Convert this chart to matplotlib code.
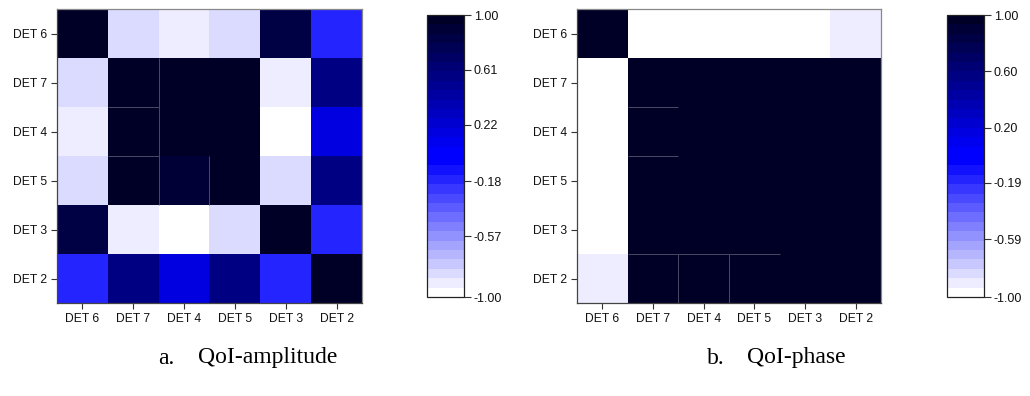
import numpy as np
import matplotlib
matplotlib.use("Agg")
import matplotlib.pyplot as plt
from matplotlib.colors import ListedColormap, Normalize
from matplotlib.ticker import FormatStrFormatter

# Detector order used for both rows (top to bottom) and columns (left to right)
detectors = ["DET 6", "DET 7", "DET 4", "DET 5", "DET 3", "DET 2"]

# Correlation of the QoI amplitude between detectors
amplitude = [
    [1.00, -0.82, -0.90, -0.82, 0.84, -0.17],
    [-0.82, 1.00, 0.98, 0.98, -0.90, 0.57],
    [-0.90, 0.98, 1.00, 0.95, -1.00, 0.17],
    [-0.82, 0.98, 0.90, 1.00, -0.82, 0.57],
    [0.84, -0.90, -1.00, -0.82, 1.00, -0.17],
    [-0.17, 0.57, 0.17, 0.57, -0.17, 1.00],
]

# Correlation of the QoI phase between detectors
phase = [
    [1.00, -1.00, -1.00, -1.00, -1.00, -0.90],
    [-1.00, 1.00, 1.00, 1.00, 1.00, 1.00],
    [-1.00, 1.00, 1.00, 1.00, 1.00, 1.00],
    [-1.00, 1.00, 1.00, 1.00, 1.00, 1.00],
    [-1.00, 1.00, 1.00, 1.00, 1.00, 1.00],
    [-0.90, 1.00, 1.00, 1.00, 1.00, 1.00],
]

amp_ticks = [1.00, 0.61, 0.22, -0.18, -0.57, -1.00]
phase_ticks = [1.00, 0.60, 0.20, -0.19, -0.59, -1.00]

caption_letters = ["a.", "b."]
caption_titles = ["QoI-amplitude", "QoI-phase"]

# Faint rendering seams between neighbouring cells: (row, col, side)
amp_seams = [(1, 1, "right"), (2, 1, "right"), (3, 1, "right"),
             (1, 1, "bottom"), (2, 1, "bottom"), (3, 2, "right")]
phase_seams = [(1, 1, "bottom"), (2, 1, "bottom"),
               (4, 1, "bottom"), (4, 2, "bottom"), (4, 3, "bottom"),
               (5, 1, "right"), (5, 2, "right")]

# Stepped white -> blue -> dark navy colour scale
n_half = 15
lower = [(1 - i / (n_half - 1), 1 - i / (n_half - 1), 1.0) for i in range(n_half)]
upper = [(0.0, 0.0, 1 - 0.85 * j / (n_half - 1)) for j in range(n_half)]
cmap = ListedColormap(lower + upper)
norm = Normalize(vmin=-1, vmax=1)

W, H = 1030, 396
fig = plt.figure(figsize=(W / 100, H / 100), dpi=100)
plt.rcParams["font.family"] = ["Liberation Sans", "DejaVu Sans"]


def frac(x0, y0, x1, y1):
    return [x0 / W, 1 - y1 / H, (x1 - x0) / W, (y1 - y0) / H]


panels = [
    (amplitude, amp_ticks, amp_seams, frac(57, 9, 362, 303), frac(427, 15, 464, 297), 158),
    (phase, phase_ticks, phase_seams, frac(577, 9, 881, 303), frac(947, 15, 984, 297), 707),
]

for (data, cticks, seams, hm_box, cb_box, cap_x), letter, title in zip(
        panels, caption_letters, caption_titles):
    ax = fig.add_axes(hm_box)
    arr = np.array(data)
    im = ax.pcolormesh(np.arange(arr.shape[1] + 1) - 0.5,
                       np.arange(arr.shape[0] + 1) - 0.5,
                       arr, cmap=cmap, norm=norm)
    for r, c, side in seams:
        if side == "right":
            ax.vlines(c + 0.5, r - 0.5, r + 0.5, color="#55556e", lw=0.6)
        else:
            ax.hlines(r + 0.5, c - 0.5, c + 0.5, color="#55556e", lw=0.6)
    ax.set_xlim(-0.5, len(detectors) - 0.5)
    ax.set_ylim(len(detectors) - 0.5, -0.5)
    ax.set_xticks(range(len(detectors)))
    ax.set_xticklabels(detectors)
    ax.set_yticks(range(len(detectors)))
    ax.set_yticklabels(detectors)
    ax.tick_params(direction="out", length=4, width=0.8, labelsize=8.7,
                   color="#333333", labelcolor="#111111", pad=3)
    for side in ("top", "right"):
        ax.spines[side].set_color("#888888")
        ax.spines[side].set_linewidth(0.9)
    for side in ("left", "bottom"):
        ax.spines[side].set_color("#444444")
        ax.spines[side].set_linewidth(0.9)

    cax = fig.add_axes(cb_box)
    cb = fig.colorbar(im, cax=cax, ticks=cticks)
    cb.ax.yaxis.set_major_formatter(FormatStrFormatter("%.2f"))
    cb.ax.tick_params(direction="out", length=5, width=0.8, labelsize=9,
                      color="#333333", labelcolor="#111111", pad=2)
    cb.outline.set_edgecolor("#222222")
    cb.outline.set_linewidth(0.9)

    serif = ["Liberation Serif", "DejaVu Serif"]
    fig.text(cap_x / W, 1 - 358 / H, letter, ha="left", va="center",
             fontsize=17, family=serif)
    fig.text((cap_x + 40) / W, 1 - 358 / H, title, ha="left", va="center",
             fontsize=17, family=serif)

fig.savefig("out.png", dpi=100)
